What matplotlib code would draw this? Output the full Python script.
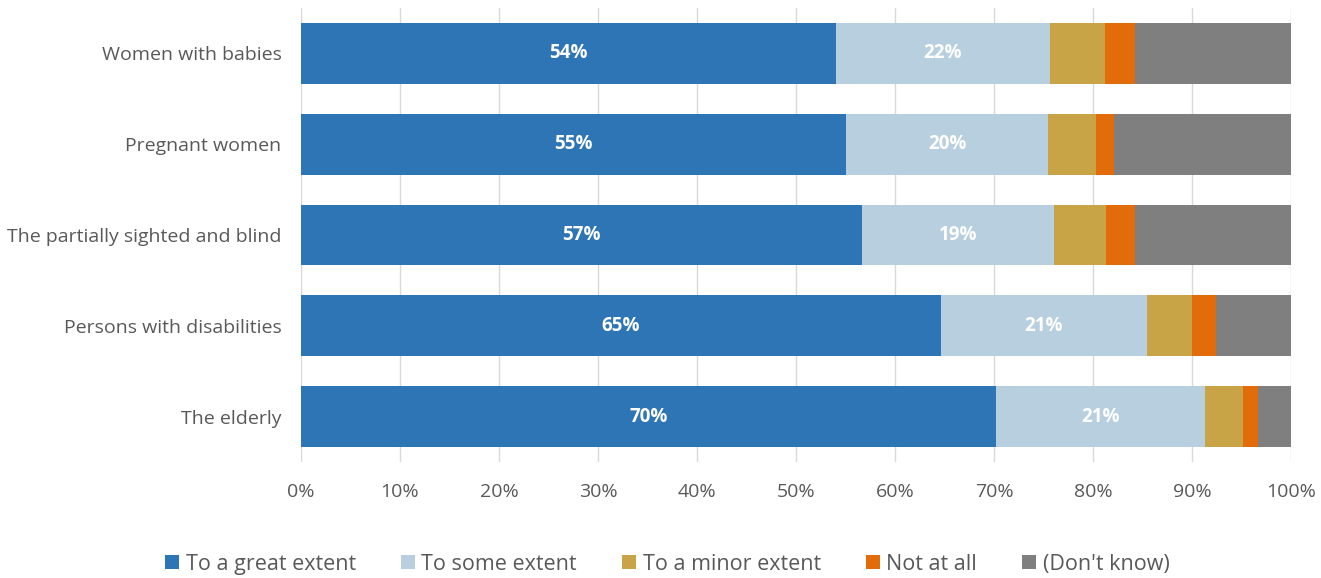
import numpy as np
import matplotlib.pyplot as plt

plt.rcParams['font.family'] = ['Open Sans', 'DejaVu Sans']

# groups, top to bottom
groups = ['Women with babies', 'Pregnant women', 'The partially sighted and blind',
          'Persons with disabilities', 'The elderly']
series = ['To a great extent', 'To some extent', 'To a minor extent', 'Not at all', "(Don't know)"]
great = [54.0, 55.1, 56.7, 64.6, 70.2]
some = [21.7, 20.4, 19.4, 20.9, 21.1]
minor = [5.5, 4.8, 5.2, 4.5, 3.9]
not_at_all = [3.0, 1.8, 2.9, 2.4, 1.5]
dont_know = [15.8, 17.9, 15.8, 7.6, 3.3]
colors = ['#2e75b6', '#b7cfdf', '#c9a446', '#e36c0a', '#7f7f7f']
label_series = [0, 1]

data = [great, some, minor, not_at_all, dont_know]
txt = '#595959'

fig = plt.figure(figsize=(13.21, 5.78), dpi=100)
ax = fig.add_axes([301/1321, 1 - 462/578, 990/1321, 454/578])

y = np.arange(len(groups))
left = np.zeros(len(groups))
for i, (name, vals) in enumerate(zip(series, data)):
    vals = np.array(vals)
    ax.barh(y, vals, left=left, height=0.67, color=colors[i], label=name, zorder=3)
    if i in label_series:
        for yy, l, v in zip(y, left, vals):
            ax.text(l + v / 2, yy, f'{round(v):.0f}%', ha='center', va='center',
                    color='white', fontsize=13.5, fontweight='bold', zorder=4)
    left += vals

ax.set_xlim(0, 100)
ax.set_ylim(len(groups) - 0.5, -0.5)
ax.set_xticks(np.arange(0, 101, 10))
ax.set_xticklabels([f'{t}%' for t in range(0, 101, 10)])
ax.set_yticks(y)
ax.set_yticklabels(groups)
ax.tick_params(axis='both', length=0, labelsize=14, colors=txt)
ax.tick_params(axis='x', pad=15)
ax.tick_params(axis='y', pad=14)
ax.grid(axis='x', color='#d9d9d9', linewidth=1, zorder=0)
for s in ax.spines.values():
    s.set_visible(False)

ax.legend(loc='center', bbox_to_anchor=(0.37, -0.225), ncol=5, frameon=False,
          fontsize=15.5, labelcolor=txt, handlelength=0.65, handleheight=0.65,
          handletextpad=0.3, columnspacing=2.1)

fig.savefig('out.png', dpi=100)
